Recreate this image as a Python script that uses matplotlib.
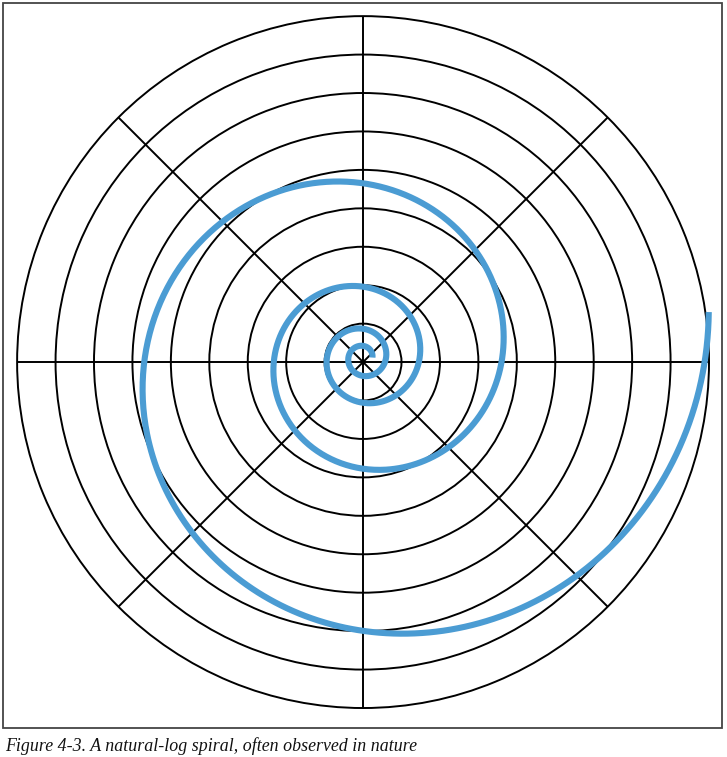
import matplotlib
matplotlib.use('Agg')
import matplotlib.pyplot as plt
import matplotlib.transforms as mtransforms
import numpy as np

# spiral radius every quarter turn (ring units, 9 rings)
sample_angle_deg = [360, 450, 540, 630, 720, 810, 900, 990, 1080, 1170, 1260, 1350, 1447.5]
sample_radius = [0.62, 0.83, 0.91, 0.99, 1.41, 2.0, 2.37, 2.79, 3.62, 4.71, 5.78, 7.03, 9.03]
start_angle_deg = 0
ring_values = [1, 2, 3, 4, 5, 6, 7, 8]
spoke_angles = [0, 45, 90, 135, 180, 225, 270, 315]
r_max = 9
caption = 'Figure 4-3. A natural-log spiral, often observed in nature'

# natural-log spiral r = a * exp(b * theta), fitted to the read samples
b, log_a = np.polyfit(np.radians(sample_angle_deg), np.log(sample_radius), 1)
theta = np.linspace(np.radians(start_angle_deg), np.radians(sample_angle_deg[-1]), 2000)
radius = np.exp(log_a + b * theta)

fig = plt.figure(figsize=(7.27, 7.57), dpi=100)
ax = fig.add_axes([0.0234, 0.0647, 0.952, 0.914], projection='polar')

# the spiral in the original sits a few pixels above the grid centre
shifted = mtransforms.offset_copy(ax.transData, fig=fig, x=0, y=4.5, units='dots')
ax.plot(theta, radius, color='#4b9cd3', linewidth=4.4, clip_on=False,
        solid_capstyle='butt', zorder=3, transform=shifted)

ax.set_ylim(0, r_max)
ax.set_yticks(ring_values)
ax.set_xticks(np.radians(spoke_angles))
ax.set_xticklabels([])
ax.set_yticklabels([])
ax.grid(True, color='black', linewidth=1.4)
ax.spines['polar'].set_color('black')
ax.spines['polar'].set_linewidth(1.4)
ax.tick_params(length=0)

# frame round the figure and the caption underneath
frame = plt.Rectangle((2.5 / 727, 1 - 727.5 / 757), 719.5 / 727, 725 / 757,
                      transform=fig.transFigure, fill=False,
                      edgecolor='#444444', linewidth=1.3)
fig.patches.append(frame)
fig.text(5 / 727, 1 - 751 / 757, caption, family='Liberation Serif',
         style='italic', fontsize=12.9, color='#111111', ha='left',
         va='baseline')

plt.savefig('out.png', dpi=100)
